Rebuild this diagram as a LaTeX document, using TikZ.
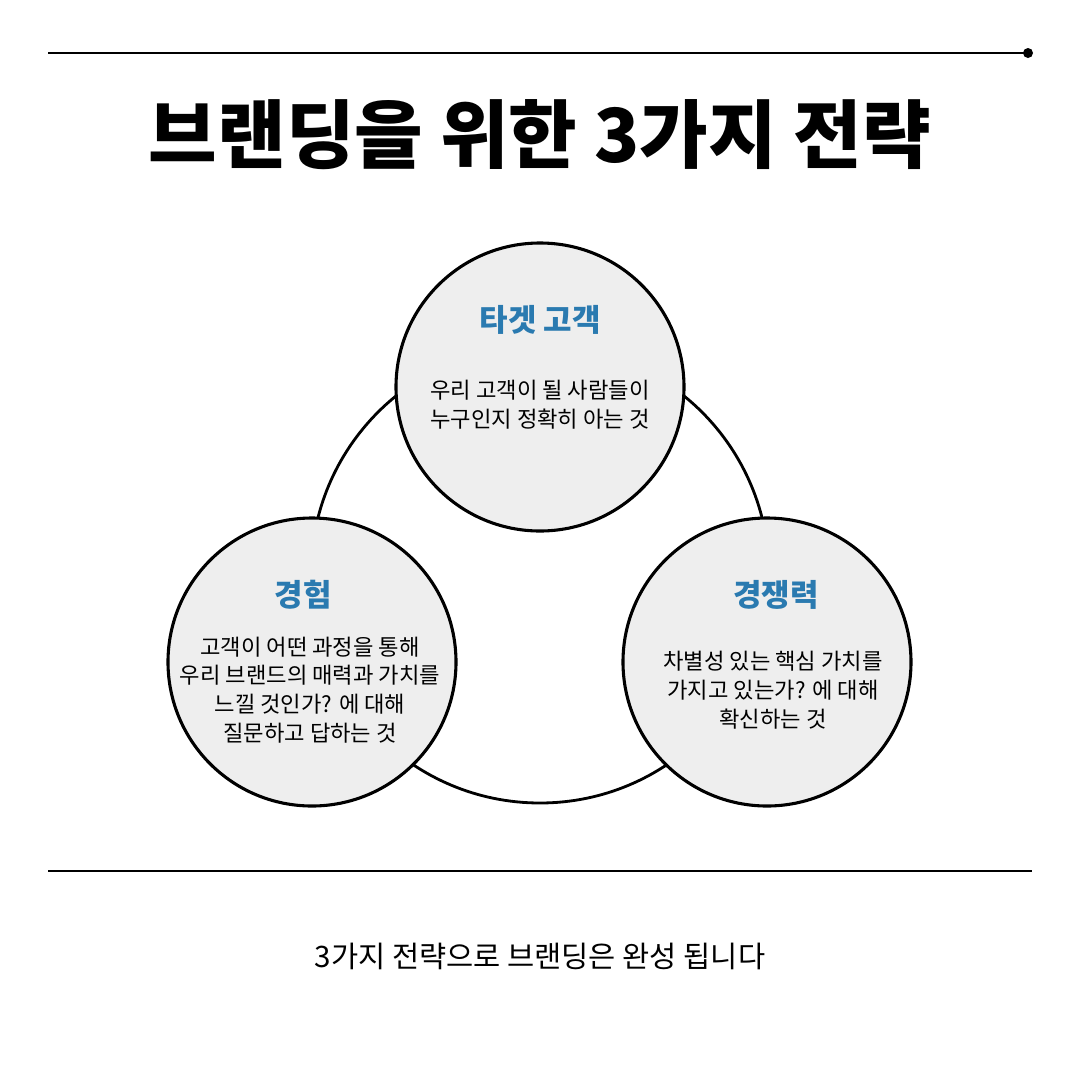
\documentclass[tikz,border=0pt]{standalone}
\usepackage{fontspec}
\setmainfont{Noto Sans CJK KR}
\definecolor{hblue}{HTML}{2A7AB0}
\definecolor{cfill}{HTML}{EEEEEE}
\begin{document}
\begin{tikzpicture}[x=0.025cm,y=-0.025cm,
  circ/.style={circle,draw,line width=2.2pt,fill=cfill,minimum size=288*0.025cm,inner sep=0},
  head/.style={font=\fontsize{22}{26}\selectfont\bfseries,text=hblue},
  body/.style={font=\fontsize{15.8}{20.5}\selectfont,align=center}]
\useasboundingbox (0,0) rectangle (1080,1080);
\coordinate (l1) at (48,53); \coordinate (l2) at (1028,53);
\draw[line width=2pt] (l1) -- (l2);
\fill (l2) circle (5);
\node (title) at (540,135) {\fontsize{53}{60}\selectfont\bfseries 브랜딩을 위한 3가지 전략};
\node[circle,draw,line width=2pt,minimum size=458*0.025cm] (big) at (540,574) {};
\node[circ] (c1) at (540,387) {};
\node[circ] (c2) at (312,662) {};
\node[circ] (c3) at (767,662) {};
\node[head] (h1) at (540,320) {타겟 고객};
\node[body] (b1) at (540,405) {우리 고객이 될 사람들이\\누구인지 정확히 아는 것};
\node[head] (h2) at (303,595) {경험};
\node[body] (b2) at (310,690) {고객이 어떤 과정을 통해\\우리 브랜드의 매력과 가치를\\느낄 것인가? 에 대해\\질문하고 답하는 것};
\node[head] (h3) at (776,595) {경쟁력};
\node[body] (b3) at (773,690) {차별성 있는 핵심 가치를\\가지고 있는가? 에 대해\\확신하는 것};
\coordinate (m1) at (48,871); \coordinate (m2) at (1032,871);
\draw[line width=2pt] (m1) -- (m2);
\node (foot) at (540,956) {\fontsize{21}{24}\selectfont 3가지 전략으로 브랜딩은 완성 됩니다};
\end{tikzpicture}
\end{document}
